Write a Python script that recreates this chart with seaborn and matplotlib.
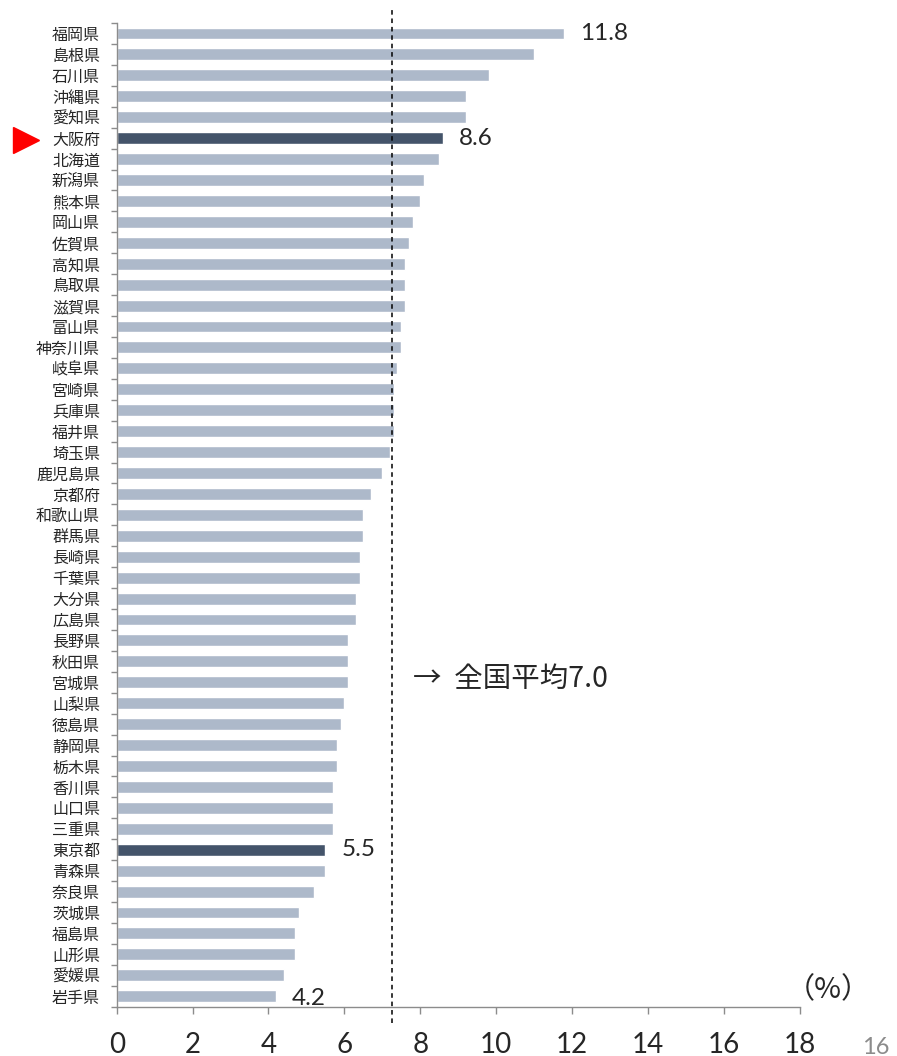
import matplotlib
matplotlib.use("Agg")
import matplotlib.pyplot as plt
import seaborn as sns
import pandas as pd
import numpy as np

prefectures = ["福岡県", "島根県", "石川県", "沖縄県", "愛知県", "大阪府", "北海道", "新潟県",
               "熊本県", "岡山県", "佐賀県", "高知県", "鳥取県", "滋賀県", "富山県", "神奈川県",
               "岐阜県", "宮崎県", "兵庫県", "福井県", "埼玉県", "鹿児島県", "京都府", "和歌山県",
               "群馬県", "長崎県", "千葉県", "大分県", "広島県", "長野県", "秋田県", "宮城県",
               "山梨県", "徳島県", "静岡県", "栃木県", "香川県", "山口県", "三重県", "東京都",
               "青森県", "奈良県", "茨城県", "福島県", "山形県", "愛媛県", "岩手県"]
values = [11.8, 11.0, 9.8, 9.2, 9.2, 8.6, 8.5, 8.1,
          8.0, 7.8, 7.7, 7.6, 7.6, 7.6, 7.5, 7.5,
          7.4, 7.3, 7.3, 7.3, 7.2, 7.0, 6.7, 6.5,
          6.5, 6.4, 6.4, 6.3, 6.3, 6.1, 6.1, 6.1,
          6.0, 5.9, 5.8, 5.8, 5.7, 5.7, 5.7, 5.5,
          5.5, 5.2, 4.8, 4.7, 4.7, 4.4, 4.2]
highlight = ["大阪府", "東京都"]
labeled = {"福岡県": "11.8", "大阪府": "8.6", "東京都": "5.5", "岩手県": "4.2"}
avg_line = 7.25
avg_label = "→  全国平均7.0"
x_ticks = [0, 2, 4, 6, 8, 10, 12, 14, 16, 18]

LIGHT = "#ADB9CA"
DARK = "#44546A"
NUMFONT = ['Lato', 'DejaVu Sans']

sns.set_theme(style="white")
plt.rcParams['font.family'] = ['Noto Sans CJK JP', 'DejaVu Sans']

df = pd.DataFrame({"pref": prefectures, "val": values})
palette = {p: (DARK if p in highlight else LIGHT) for p in prefectures}

fig = plt.figure(figsize=(8.97, 10.56), dpi=100)
ax = fig.add_axes([0.1301, 0.0467, 0.7614, 0.9315])

sns.barplot(data=df, x="val", y="pref", hue="pref", palette=palette, legend=False,
            width=0.57, ax=ax, saturation=1, order=prefectures)

ax.set_xlim(0, 18)
ax.set_ylim(len(prefectures) - 0.5, -0.5)
ax.set_xlabel("")
ax.set_ylabel("")

for s in ["top", "right"]:
    ax.spines[s].set_visible(False)
for s in ["left", "bottom"]:
    ax.spines[s].set_color("#8C8C8C")
    ax.spines[s].set_linewidth(1.0)

ax.set_xticks(x_ticks)
ax.set_xticklabels([str(t) for t in x_ticks], fontsize=20, family=NUMFONT)
ax.tick_params(axis="x", direction="out", length=5, width=1, color="#8C8C8C", pad=13, bottom=True)

ax.set_yticks(range(len(prefectures)))
ax.set_yticklabels(prefectures, fontsize=11.5)
ax.tick_params(axis="y", which="major", length=0, pad=12, left=False)
ax.set_yticks(np.arange(-0.5, len(prefectures), 1.0), minor=True)
ax.tick_params(axis="y", which="minor", direction="out", length=4.5, width=1, color="#8C8C8C", left=True)

# average line
ax.axvline(avg_line, ymin=-0.0166, ymax=1.013, color="black", lw=1.1,
           linestyle=(0, (3, 2.5)), clip_on=False)
ax.text(7.8, prefectures.index("宮城県") - 0.15, avg_label, fontsize=20.5, va="center", ha="left")

# value labels
for p, lab in labeled.items():
    i = prefectures.index(p)
    v = values[i]
    dy = 0.1 if p == "岩手県" else 0
    ax.text(v + 0.42, i + dy, lab, fontsize=17.5, va="center", ha="left", family=NUMFONT)

# red marker for Osaka
ax.plot([-2.4], [prefectures.index("大阪府") + 0.1], marker=">", color="#FF0000",
        markersize=19, clip_on=False, linestyle="none")

fig.text(786 / 897, 1 - 990 / 1056, "（%）", fontsize=21, va="center", ha="left")
fig.text(862 / 897, 1 - 1037 / 1056, "16", fontsize=17, va="top", ha="left",
         color="#8C8C8C", family=NUMFONT)

fig.savefig("out.png", dpi=100)
